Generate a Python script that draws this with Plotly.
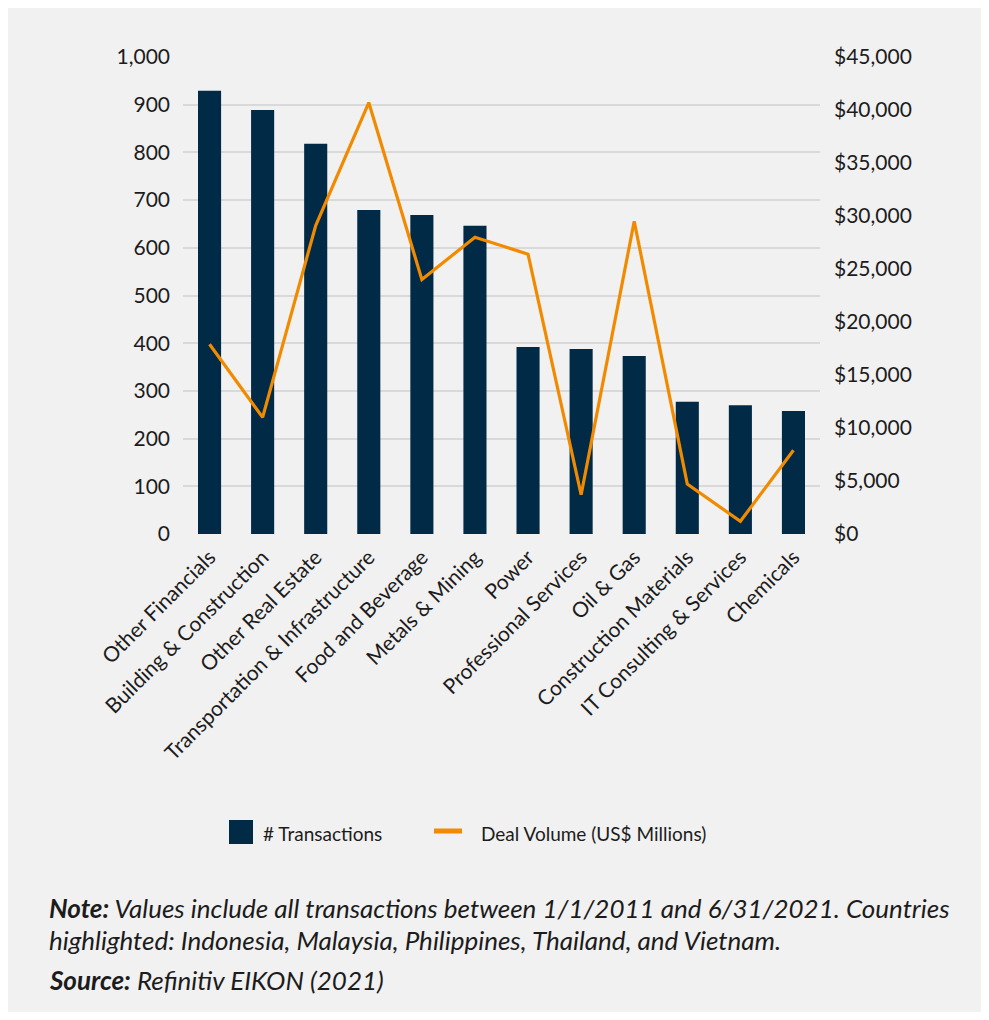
import plotly.graph_objects as go

# Sector breakdown of M&A activity
sectors = [
    "Other Financials", "Building & Construction", "Other Real Estate",
    "Transportation & Infrastructure", "Food and Beverage", "Metals & Mining",
    "Power", "Professional Services", "Oil & Gas", "Construction Materials",
    "IT Consulting & Services", "Chemicals",
]
transactions = [929, 889, 818, 679, 669, 646, 392, 388, 373, 277, 270, 258]
deal_volume = [17900, 11000, 29100, 40700, 24000, 28000, 26400, 3700, 29500, 4700, 1200, 7900]

left_ticks = list(range(0, 1001, 100))
left_labels = [f"{v:,}" for v in left_ticks]
right_ticks = list(range(0, 45001, 5000))
right_labels = [f"${v:,}" for v in right_ticks]

NAVY = "#012a47"
ORANGE = "#f28a00"
TEXT = "#1c1c1c"
FONT = "Lato"

W, H = 989, 1020
L, R, T, B = 183, 820, 57, 534  # plot-area edges in pixels
PW, PH = R - L, B - T


def px(x):
    return (x - L) / PW


def py(y):
    return (B - y) / PH


fig = go.Figure()
fig.add_trace(go.Bar(
    x=sectors, y=transactions, name="# Transactions",
    marker=dict(color=NAVY, line=dict(width=0)), yaxis="y",
))
fig.add_trace(go.Scatter(
    x=sectors, y=deal_volume, name="Deal Volume (US$ Millions)",
    mode="lines", line=dict(color=ORANGE, width=3.2), yaxis="y2",
))

shapes = [
    # panel background
    dict(type="rect", xref="paper", yref="paper", layer="below",
         x0=px(8), x1=px(981), y0=py(1012), y1=py(8),
         fillcolor="#f1f1f1", line=dict(width=0)),
    # legend swatches
    dict(type="rect", xref="paper", yref="paper",
         x0=px(229), x1=px(253), y0=py(844), y1=py(820),
         fillcolor=NAVY, line=dict(width=0)),
    dict(type="line", xref="paper", yref="paper",
         x0=px(434), x1=px(462), y0=py(831), y1=py(831),
         line=dict(color=ORANGE, width=5)),
]

note_font = dict(family=FONT, size=26, color=TEXT)
annotations = [
    dict(text="# Transactions", xref="paper", yref="paper",
         x=px(261), y=py(833), xanchor="left", yanchor="middle",
         showarrow=False, font=dict(family=FONT, size=19, color=TEXT)),
    dict(text="Deal Volume (US$ Millions)", xref="paper", yref="paper",
         x=px(479), y=py(833), xanchor="left", yanchor="middle",
         showarrow=False, font=dict(family=FONT, size=19, color=TEXT)),
    dict(text="<b><i>Note:</i></b><i> Values include all transactions between 1/1/2011 and 6/31/2021. Countries</i>",
         xref="paper", yref="paper", x=px(47), y=py(908),
         xanchor="left", yanchor="middle", showarrow=False, font=note_font),
    dict(text="<i>highlighted: Indonesia, Malaysia, Philippines, Thailand, and Vietnam.</i>",
         xref="paper", yref="paper", x=px(47), y=py(940),
         xanchor="left", yanchor="middle", showarrow=False, font=note_font),
    dict(text="<b><i>Source:</i></b><i> Refinitiv EIKON (2021)</i>",
         xref="paper", yref="paper", x=px(47), y=py(980),
         xanchor="left", yanchor="middle", showarrow=False, font=note_font),
]

fig.update_layout(
    width=W, height=H,
    margin=dict(l=L, r=W - R, t=T, b=H - B, pad=0),
    paper_bgcolor="white", plot_bgcolor="rgba(0,0,0,0)",
    font=dict(family=FONT, size=21, color=TEXT),
    showlegend=False,
    bargap=0.565,
    xaxis=dict(
        type="category", tickangle=-45, showgrid=False, zeroline=False,
        showline=False, ticks="", ticklabelstandoff=6,
        tickfont=dict(size=21, color=TEXT),
    ),
    yaxis=dict(
        range=[0, 1000], tickvals=left_ticks, ticktext=left_labels,
        showgrid=True, gridcolor="#d9d9d9", gridwidth=1.5,
        zeroline=False, showline=False, ticks="",
        ticklabelstandoff=12, tickfont=dict(size=21, color=TEXT),
    ),
    yaxis2=dict(
        range=[0, 45000], tickvals=right_ticks, ticktext=right_labels,
        overlaying="y", side="right", showgrid=False, zeroline=False,
        showline=False, ticks="", ticklabelstandoff=13,
        tickfont=dict(size=21, color=TEXT),
    ),
    shapes=shapes,
    annotations=annotations,
)

fig.write_html("out.html")
